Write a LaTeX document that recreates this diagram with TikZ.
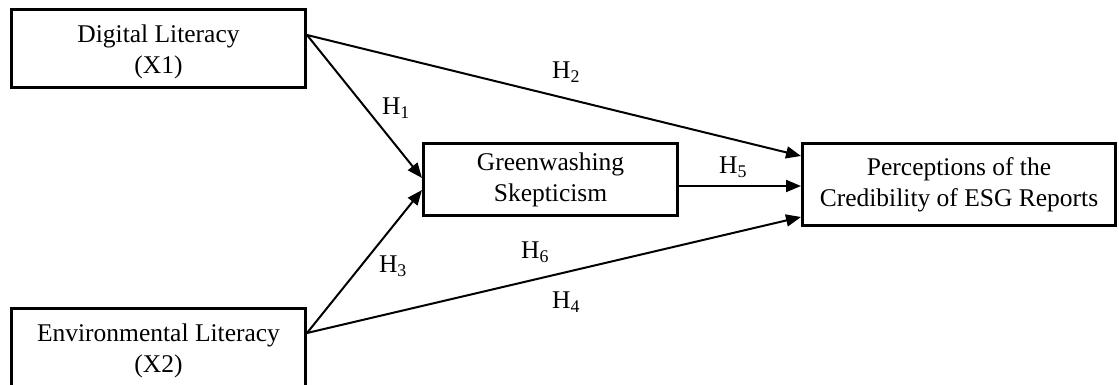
\documentclass[tikz,border=0pt]{standalone}
\usepackage{fontspec}
\setmainfont{Liberation Serif}
\usetikzlibrary{positioning,arrows.meta}

\begin{document}
\begin{tikzpicture}[
  x=1pt, y=-1pt,
  node distance=218pt,
  every node/.style={font=\fontsize{25.5}{31}\selectfont},
  box/.style={draw, line width=3pt, align=center, minimum width=294pt,
              minimum height=78pt},
  arr/.style={-{Triangle[length=15pt,width=12pt]}, line width=2pt},
  hyp/.style={inner sep=0pt}
]
\useasboundingbox (0,0) rectangle (1119,385);
% left: the two literacies
\node[box] (dl) at (158.5,48.5) {\rule{0pt}{24pt}Digital Literacy\\(X1)};
\node[box, minimum height=84pt, below=of dl] (el) {Environmental Literacy\\(X2)};

% mediator and outcome
\node[box, minimum width=254pt, minimum height=72pt] (gs) at (550.5,179.5) {Greenwashing\\Skepticism};
\node[box, minimum width=313pt, minimum height=82pt, right=122pt of gs, yshift=-5pt] (pc)
  {Perceptions of the\\Credibility of ESG Reports};

% paths
\draw[arr] ([yshift=13.5pt]dl.east) -- ([yshift=1.5pt]gs.west);
\draw[arr] ([yshift=13.5pt]dl.east) -- ([yshift=28.5pt]pc.west);
\draw[arr] ([yshift=17.5pt]el.east) -- ([yshift=-10.5pt]gs.west);
\draw[arr] ([yshift=17.5pt]el.east) -- ([yshift=-32.5pt]pc.west);
\draw[arr] ([yshift=-6.5pt]gs.east) -- ([yshift=-1.5pt]pc.west);

% hypotheses
\node[hyp] (h1) at (396,108) {H\textsubscript{1}};
\node[hyp] (h2) at (566,72) {H\textsubscript{2}};
\node[hyp] (h3) at (393,266) {H\textsubscript{3}};
\node[hyp] (h4) at (566,302) {H\textsubscript{4}};
\node[hyp] (h5) at (733,167) {H\textsubscript{5}};
\node[hyp] (h6) at (535,252) {H\textsubscript{6}};
\end{tikzpicture}
\end{document}
